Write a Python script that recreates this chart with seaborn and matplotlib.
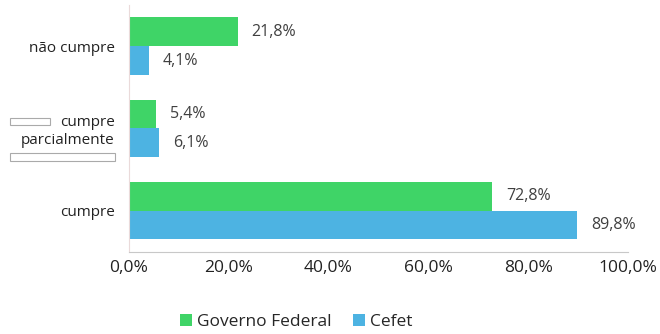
import pandas as pd
import seaborn as sns
import matplotlib.pyplot as plt
from matplotlib.patches import Rectangle
from matplotlib.ticker import FuncFormatter

categorias = ["não cumpre", "cumpre\nparcialmente", "cumpre"]
governo = [21.8, 5.4, 72.8]
cefet = [4.1, 6.1, 89.8]
series = ["Governo Federal", "Cefet"]
cores = ["#3fd467", "#4db3e2"]

df = pd.DataFrame({
    "categoria": categorias * 2,
    "valor": governo + cefet,
    "serie": [series[0]] * 3 + [series[1]] * 3,
})

sns.set_style("white")
plt.rcParams["font.family"] = ["Open Sans", "DejaVu Sans"]

fig = plt.figure(figsize=(6.6, 3.34), dpi=100)
ax = fig.add_axes([0.195, 0.246, 0.757, 0.739])

sns.barplot(data=df, y="categoria", x="valor", hue="serie", order=categorias,
            hue_order=series, palette=cores, orient="h", width=0.7,
            saturation=1, linewidth=0, ax=ax)

for cont in ax.containers:
    ax.bar_label(cont, labels=[f"{v:.1f}%".replace(".", ",") for v in cont.datavalues],
                 padding=10, fontsize=11.5, color="#404040")

ax.set_xlim(0, 100)
ax.set_xticks([0, 20, 40, 60, 80, 100])
ax.xaxis.set_major_formatter(FuncFormatter(lambda v, p: f"{v:.1f}%".replace(".", ",")))
ax.set_xlabel("")
ax.set_ylabel("")
ax.tick_params(axis="x", direction="in", length=5, color="#c8c8c8", labelsize=12.5,
               labelcolor="#222222", pad=6)
ax.tick_params(axis="y", length=0, labelsize=11, labelcolor="#222222", pad=10)
for lab in ax.get_yticklabels():
    lab.set_horizontalalignment("right")
    lab.set_multialignment("right")

for s in ["top", "right"]:
    ax.spines[s].set_visible(False)
ax.spines["left"].set_color("#eadada")
ax.spines["bottom"].set_color("#c8c8c8")

ax.legend(loc="center", bbox_to_anchor=(0.335, -0.283), ncol=2, frameon=False,
          fontsize=12.5, handlelength=0.7, handleheight=0.7, handletextpad=0.3,
          columnspacing=1.2, borderpad=0)

# caixas brancas junto ao rótulo do meio
fig.patches.append(Rectangle((10 / 660, 1 - 125 / 334), 40 / 660, 7 / 334,
                             transform=fig.transFigure, facecolor="white",
                             edgecolor="#aaaaaa", linewidth=0.8))
fig.patches.append(Rectangle((10 / 660, 1 - 161 / 334), 105 / 660, 8 / 334,
                             transform=fig.transFigure, facecolor="white",
                             edgecolor="#aaaaaa", linewidth=0.8))

fig.savefig("out.png", dpi=100)
